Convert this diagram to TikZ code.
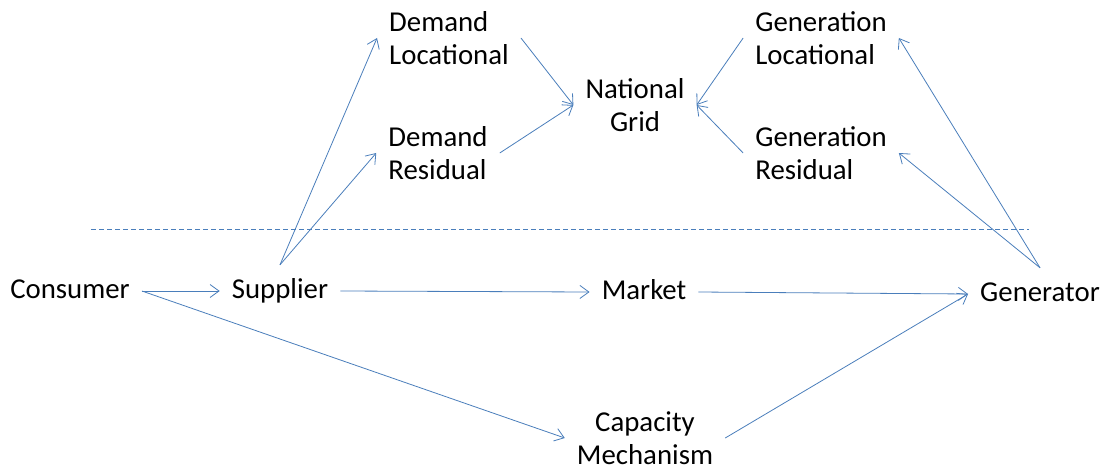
\documentclass[tikz,border=0pt]{standalone}
\usepackage{fontspec}
\setmainfont{Carlito}
\usetikzlibrary{arrows.meta}
\definecolor{linkblue}{HTML}{4A7EBB}
\begin{document}
\begin{tikzpicture}[x=1pt,y=-1pt,
    every node/.style={font=\fontsize{28.8}{33}\selectfont,inner xsep=12pt,inner ysep=13pt},
    line/.style={text height=20pt,text depth=6pt},
    >={Straight Barb[length=9pt,width=13pt]}]
      \useasboundingbox (0,0) rectangle (1106,468);
      \draw
        (70,291) node[line] (consumer){Consumer}
        (280,291) node[line] (supplier){Supplier}
        (644,292) node[line] (market){Market}
        (1040,294) node[line] (generator){Generator}
        (645,438) node[align=center,inner ysep=1pt] (capacity){Capacity\\Mechanism}
        (449,38) node[align=left] (dl){Demand\\Locational}
        (438,153) node[align=left] (dr){Demand\\Residual}
        (635,105) node[align=center] (ng){National\\Grid}
        (821,38) node[align=left] (gl){Generation\\Locational}
        (821,153) node[align=left] (gr){Generation\\Residual};
      \draw[linkblue,line width=0.8pt,dash pattern=on 5pt off 3pt] (91,229) -- (1029,229);
      \begin{scope}[->,linkblue,line width=0.8pt]
        \draw (consumer.east) to (supplier.west);
        \draw (supplier.east) to (market.west);
        \draw (market.east) to (generator.west);
        \draw (consumer.east) to (capacity.west);
        \draw (capacity.east) to (generator.west);
        \draw (supplier.north) to (dl.west);
        \draw (supplier.north) to (dr.west);
        \draw (dl.east) to (ng.west);
        \draw (dr.east) to (ng.west);
        \draw (gl.west) to (ng.east);
        \draw (gr.west) to (ng.east);
        \draw (generator.north) to (gl.east);
        \draw (generator.north) to (gr.east);
      \end{scope}
    \end{tikzpicture}
\end{document}
